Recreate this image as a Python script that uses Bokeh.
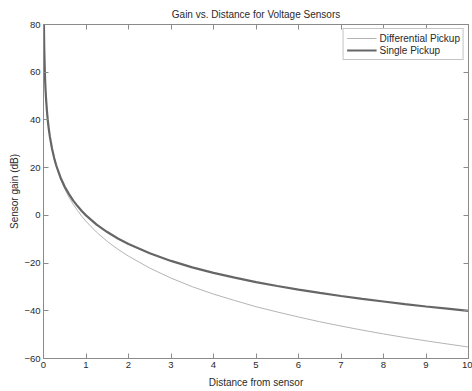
from bokeh.plotting import figure
from bokeh.models import LinearAxis, FixedTicker, Range1d, Legend, LegendItem
from bokeh.embed import file_html
from bokeh.resources import INLINE

# Data
distance = [0.008, 0.01, 0.015, 0.02, 0.03, 0.04, 0.05, 0.06, 0.08, 0.1, 0.12, 0.15,
            0.2, 0.25, 0.3, 0.4, 0.5, 0.6, 0.7, 0.8, 0.9, 1.0, 1.25, 1.5, 1.75,
            2.0, 2.5, 3.0, 3.5, 4.0, 4.5, 5.0, 5.5, 6.0, 6.5, 7.0, 7.5, 8.0,
            8.5, 9.0, 9.5, 10.0]
single_pickup = [83.9, 80.0, 73.0, 68.0, 60.9, 55.9, 52.0, 48.9, 43.9, 40.0, 36.8, 33.0,
                 28.0, 24.1, 20.9, 15.9, 12.0, 8.9, 6.2, 3.9, 1.8, 0.0, -3.9, -7.0, -9.7,
                 -12.0, -15.9, -19.1, -21.8, -24.1, -26.1, -28.0, -29.6, -31.1, -32.5,
                 -33.8, -35.0, -36.1, -37.2, -38.2, -39.1, -40.0]
differential_pickup = [83.9, 80.0, 73.0, 68.0, 60.9, 55.9, 52.0, 48.9, 43.8, 39.9, 36.7, 32.8,
                       27.7, 23.7, 20.4, 15.2, 11.0, 7.6, 4.6, 2.0, -0.4, -2.5, -7.1, -10.9,
                       -14.2, -17.1, -22.1, -26.3, -29.9, -33.0, -35.7, -38.3, -40.5, -42.6,
                       -44.6, -46.4, -48.1, -49.7, -51.2, -52.6, -53.9, -55.2]
x_ticks = [0, 1, 2, 3, 4, 5, 6, 7, 8, 9, 10]
y_ticks = [-60, -40, -20, 0, 20, 40, 60, 80]

FONT = "Liberation Sans"
AXIS_COLOR = "#8a8a8a"
TEXT_COLOR = "#2a2a2a"

p = figure(width=472, height=391, output_backend="svg", toolbar_location=None,
           x_range=Range1d(0, 10), y_range=Range1d(-60, 80),
           min_border_left=43, min_border_right=4, min_border_top=24, min_border_bottom=33,
           title="Gain vs. Distance for Voltage Sensors")
p.xgrid.visible = False
p.ygrid.visible = False
p.outline_line_color = AXIS_COLOR
p.background_fill_color = "white"
p.border_fill_color = "white"

p.title.align = "center"
p.title.text_font = FONT
p.title.text_font_size = "10px"
p.title.text_font_style = "normal"
p.title.text_color = TEXT_COLOR
p.title.offset = 0
p.title.standoff = 9

r_diff = p.line(distance, differential_pickup, line_color="#b4b4b4", line_width=1)
r_single = p.line(distance, single_pickup, line_color="#666666", line_width=2.2)

def style_axis(ax, labels=True):
    ax.axis_line_color = AXIS_COLOR
    ax.major_tick_line_color = AXIS_COLOR
    ax.major_tick_in = 5
    ax.major_tick_out = 0
    ax.minor_tick_line_color = None
    ax.major_label_text_font = FONT
    ax.major_label_text_color = TEXT_COLOR
    ax.axis_label_text_font = FONT
    ax.axis_label_text_color = TEXT_COLOR
    ax.axis_label_text_font_style = "normal"
    ax.axis_label_text_font_size = "10px"
    ax.major_label_text_font_size = "9.5px"
    if labels:
        ax.major_label_standoff = 3
    else:
        ax.major_label_overrides = {t: "" for t in ax.ticker.ticks}
        ax.major_label_standoff = 0

xa = p.xaxis[0]
xa.ticker = FixedTicker(ticks=x_ticks)
xa.axis_label = "Distance from sensor"
style_axis(xa)
xa.axis_label_standoff = 6

ya = p.yaxis[0]
ya.ticker = FixedTicker(ticks=y_ticks)
ya.axis_label = "Sensor gain (dB)"
style_axis(ya)
ya.axis_label_standoff = 1

top = LinearAxis(ticker=FixedTicker(ticks=x_ticks))
style_axis(top, labels=False)
p.add_layout(top, "above")
right = LinearAxis(ticker=FixedTicker(ticks=y_ticks))
style_axis(right, labels=False)
p.add_layout(right, "right")

legend = Legend(items=[LegendItem(label="Differential Pickup", renderers=[r_diff]),
                       LegendItem(label="Single Pickup", renderers=[r_single])],
                location="top_right")
legend.label_text_font = FONT
legend.label_text_font_size = "10px"
legend.label_text_color = TEXT_COLOR
legend.border_line_color = AXIS_COLOR
legend.background_fill_color = "white"
legend.background_fill_alpha = 1
legend.margin = 4
legend.padding = 3
legend.spacing = 0
legend.glyph_width = 30
legend.glyph_height = 12
legend.label_height = 12
legend.label_standoff = 3
p.add_layout(legend)

open("out.html", "w").write(file_html(p, INLINE))
